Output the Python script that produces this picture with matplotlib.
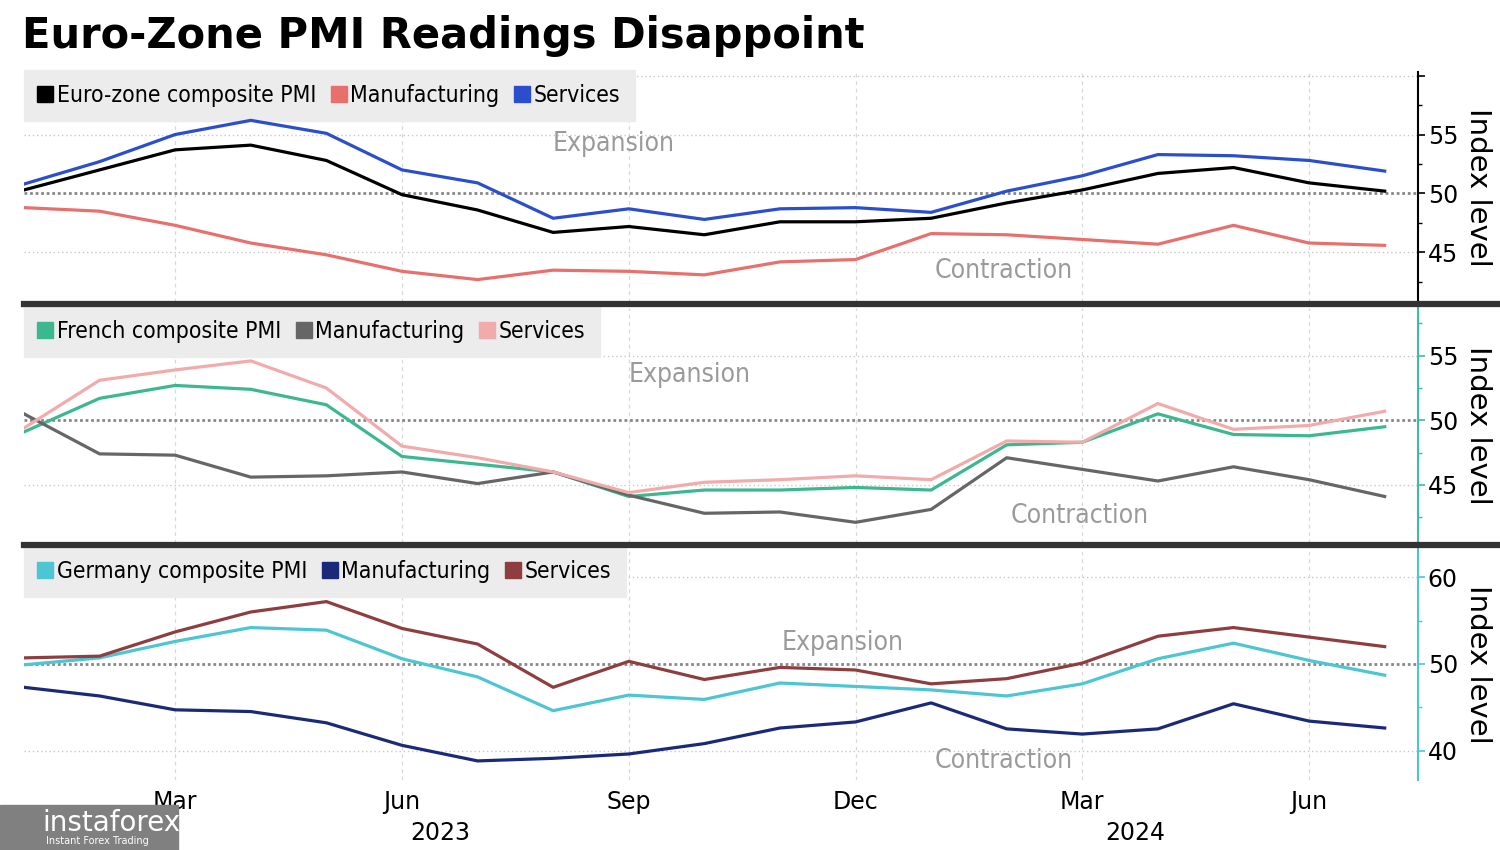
import matplotlib.pyplot as plt
from matplotlib.lines import Line2D
from matplotlib.patches import Rectangle

# months Jan 2023 .. Jul 2024
months = list(range(19))
tick_pos = [2, 5, 8, 11, 14, 17]
tick_labels = ["Mar", "Jun", "Sep", "Dec", "Mar", "Jun"]

# Euro-zone
ez_comp = [50.3, 52.0, 53.7, 54.1, 52.8, 49.9, 48.6, 46.7, 47.2, 46.5, 47.6, 47.6, 47.9, 49.2, 50.3, 51.7, 52.2, 50.9, 50.2]
ez_manu = [48.8, 48.5, 47.3, 45.8, 44.8, 43.4, 42.7, 43.5, 43.4, 43.1, 44.2, 44.4, 46.6, 46.5, 46.1, 45.7, 47.3, 45.8, 45.6]
ez_serv = [50.8, 52.7, 55.0, 56.2, 55.1, 52.0, 50.9, 47.9, 48.7, 47.8, 48.7, 48.8, 48.4, 50.2, 51.5, 53.3, 53.2, 52.8, 51.9]

# France
fr_comp = [49.1, 51.7, 52.7, 52.4, 51.2, 47.2, 46.6, 46.0, 44.1, 44.6, 44.6, 44.8, 44.6, 48.1, 48.3, 50.5, 48.9, 48.8, 49.5]
fr_manu = [50.5, 47.4, 47.3, 45.6, 45.7, 46.0, 45.1, 46.0, 44.2, 42.8, 42.9, 42.1, 43.1, 47.1, 46.2, 45.3, 46.4, 45.4, 44.1]
fr_serv = [49.4, 53.1, 53.9, 54.6, 52.5, 48.0, 47.1, 46.0, 44.4, 45.2, 45.4, 45.7, 45.4, 48.4, 48.3, 51.3, 49.3, 49.6, 50.7]

# Germany
de_comp = [49.9, 50.7, 52.6, 54.2, 53.9, 50.6, 48.5, 44.6, 46.4, 45.9, 47.8, 47.4, 47.0, 46.3, 47.7, 50.6, 52.4, 50.4, 48.7]
de_manu = [47.3, 46.3, 44.7, 44.5, 43.2, 40.6, 38.8, 39.1, 39.6, 40.8, 42.6, 43.3, 45.5, 42.5, 41.9, 42.5, 45.4, 43.4, 42.6]
de_serv = [50.7, 50.9, 53.7, 56.0, 57.2, 54.1, 52.3, 47.3, 50.3, 48.2, 49.6, 49.3, 47.7, 48.3, 50.1, 53.2, 54.2, 53.1, 52.0]

panels = [
    dict(series=[ez_comp, ez_manu, ez_serv],
         names=["Euro-zone composite PMI", "Manufacturing", "Services"],
         colors=["#000000", "#e8706c", "#2b4fcc"],
         spine="#000000", ylim=(40.8, 60.3), major=[45, 50, 55, 60], labels=["45", "50", "55", ""],
         minor=[42.5, 47.5, 52.5, 57.5],
         exp=(7.8, 54.2), con=(12.96, 43.4), rect=[0.016, 0.6447, 0.9293, 0.2706]),
    dict(series=[fr_comp, fr_manu, fr_serv],
         names=["French composite PMI", "Manufacturing", "Services"],
         colors=["#3cb890", "#666666", "#f2abab"],
         spine="#3cbfa0", ylim=(40.5, 58.7), major=[45, 50, 55], labels=["45", "50", "55"],
         minor=[42.5, 47.5, 52.5, 57.5],
         exp=(8.8, 53.5), con=(13.96, 42.6), rect=[0.016, 0.3612, 0.9293, 0.2765]),
    dict(series=[de_comp, de_manu, de_serv],
         names=["Germany composite PMI", "Manufacturing", "Services"],
         colors=["#4cc6d3", "#1b2a78", "#8e3e3e"],
         spine="#4cc6d3", ylim=(36.6, 63.4), major=[40, 50, 60], labels=["40", "50", "60"],
         minor=[45, 55],
         exp=(10.83, 52.4), con=(12.96, 38.8), rect=[0.016, 0.0824, 0.9293, 0.273]),
]

plt.rcParams["font.family"] = "DejaVu Sans"

fig = plt.figure(figsize=(15, 8.5), dpi=100)
fig.text(0.015, 0.958, "Euro-Zone PMI Readings Disappoint", fontsize=30, fontweight="bold",
         va="center", ha="left")

axes = []
for p in panels:
    ax = fig.add_axes(p["rect"])
    axes.append(ax)
    for s, c in zip(p["series"], p["colors"]):
        ax.plot(months, s, color=c, lw=2.3, solid_joinstyle="round")
    ax.set_xlim(0, 18.44)
    ax.set_ylim(*p["ylim"])
    for sp in ["left", "top", "bottom"]:
        ax.spines[sp].set_visible(False)
    ax.spines["right"].set_color(p["spine"])
    ax.spines["right"].set_linewidth(1.5)
    ax.yaxis.tick_right()
    ax.set_yticks(p["major"])
    ax.set_yticklabels(p["labels"])
    ax.set_yticks(p["minor"], minor=True)
    ax.tick_params(axis="y", which="major", length=5, width=1.2, color=p["spine"],
                   labelsize=17, pad=2)
    ax.tick_params(axis="y", which="minor", length=3, width=1, color=p["spine"])
    ax.text(1.043, 0.5, "Index level", rotation=-90, fontsize=21, ha="center", va="center",
            transform=ax.transAxes)
    ax.set_xticks(tick_pos)
    ax.tick_params(axis="x", length=0, labelsize=17, pad=7)
    if p is panels[-1]:
        ax.set_xticklabels(tick_labels)
    else:
        ax.set_xticklabels([])
    # grid
    for v in tick_pos:
        ax.axvline(v, color="#d8d8d8", lw=0.9, ls=(0, (3, 3)), zorder=0)
    for v in p["major"]:
        if v == 50:
            ax.axhline(v, color="#888888", lw=2, ls=(0, (1, 1)), zorder=0.5)
        else:
            ax.axhline(v, color="#c8c8c8", lw=1, ls=(0, (1, 2)), zorder=0)
    ax.text(*p["exp"], "Expansion", color="#9a9a9a", fontsize=19, ha="center", va="center",
            fontstretch="condensed")
    ax.text(*p["con"], "Contraction", color="#9a9a9a", fontsize=19, ha="center", va="center",
            fontstretch="condensed")
    handles = [Line2D([], [], marker="s", ls="none", color=c, markersize=11) for c in p["colors"]]
    leg = ax.legend(handles, p["names"], loc="upper left", bbox_to_anchor=(0, 1.01), ncol=3,
                    frameon=True, fancybox=False, facecolor="#ececec", edgecolor="#ececec",
                    framealpha=1, fontsize=16.5, handlelength=0.6, handletextpad=0.2,
                    columnspacing=0.7, borderpad=0.62, borderaxespad=0)
    leg.set_zorder(1)
    for t in leg.get_texts():
        t.set_fontstretch("condensed")

# year labels
axes[-1].text(5.5, -0.23, "2023", transform=axes[-1].get_xaxis_transform(), fontsize=17,
              ha="center", va="center")
axes[-1].text(14.7, -0.23, "2024", transform=axes[-1].get_xaxis_transform(), fontsize=17,
              ha="center", va="center")

# separators between panels
for y in [1 - 304 / 850, 1 - 545 / 850]:
    fig.add_artist(Line2D([0.016, 1.0], [y, y], color="#333333", lw=4.5, transform=fig.transFigure))

# watermark
fig.add_artist(Rectangle((0, 0), 178 / 1500, 45 / 850, transform=fig.transFigure,
                         color="#808080", zorder=10))
fig.text(0.028, 0.032, "instaforex", color="white", fontsize=20, zorder=11, va="center")
fig.text(0.031, 0.01, "Instant Forex Trading", color="white", fontsize=7, zorder=11, va="center")

fig.savefig("out.png", dpi=100)
